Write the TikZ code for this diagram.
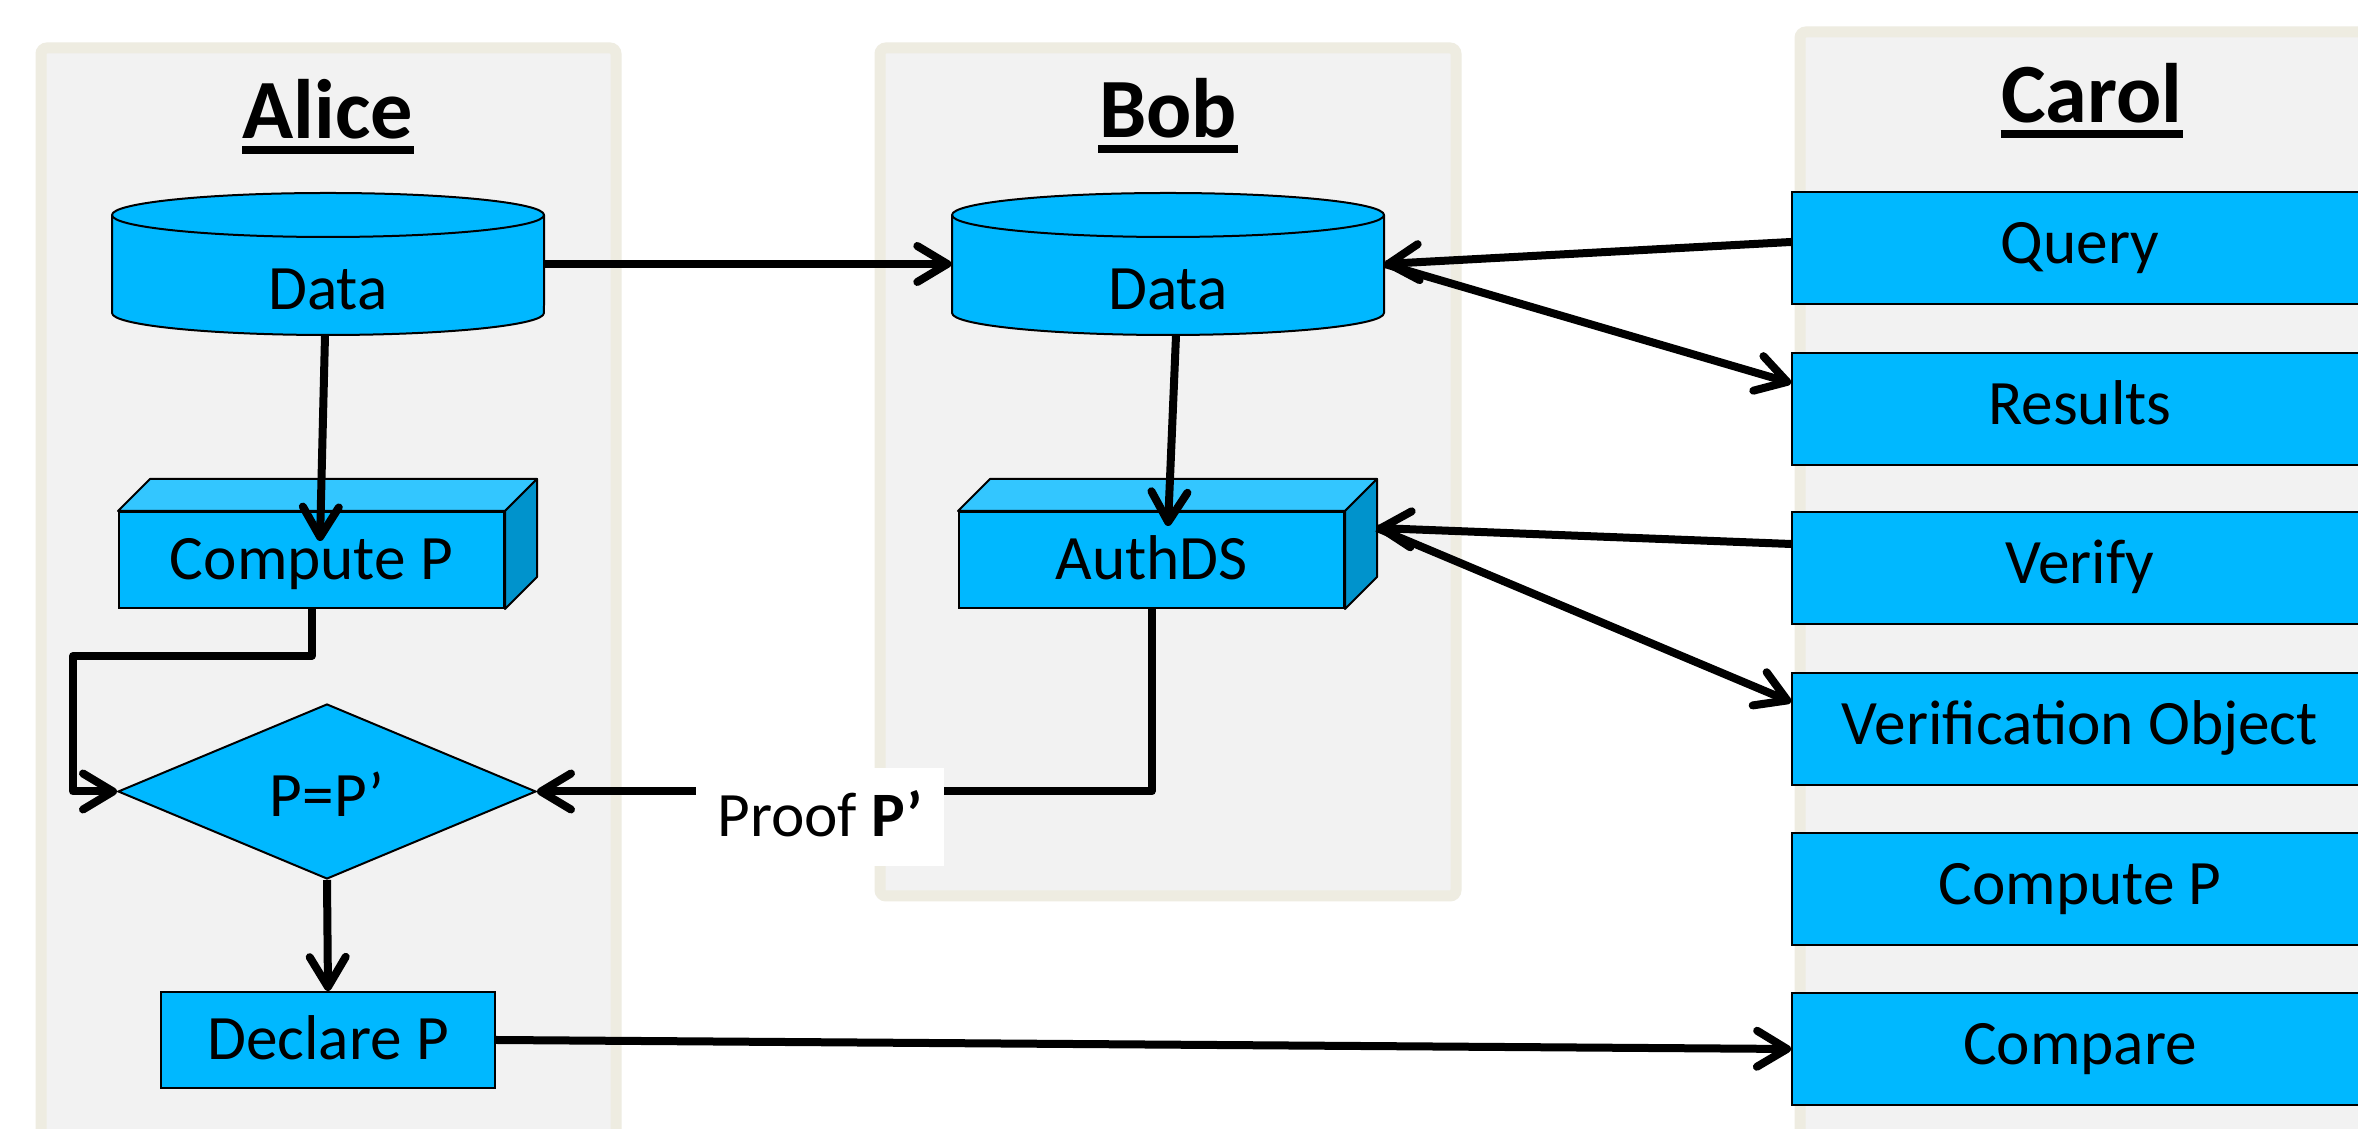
\documentclass[tikz,border=0pt]{standalone}
\usepackage{fontspec}
\setmainfont{Carlito}
\usetikzlibrary{arrows.meta,shapes.geometric}
\definecolor{boxblue}{HTML}{00B8FF}
\definecolor{boxtop}{HTML}{33C6FF}
\definecolor{boxside}{HTML}{0093CC}
\definecolor{panelbg}{HTML}{F2F2F2}
\definecolor{panelrim}{HTML}{EEECE1}
\newcommand{\boxfont}{\fontsize{18}{22}\selectfont}
\tikzset{
  panel/.style={draw=panelrim, fill=panelbg, line width=1.1mm, rounded corners=0.6mm},
  head/.style={font=\fontsize{24}{28}\selectfont\bfseries, inner sep=0pt, anchor=base},
  box/.style={draw=black, fill=boxblue, line width=0.2mm, inner sep=0pt,
              font=\boxfont, text height=11.3pt, text depth=0pt},
  slab/.style={box, minimum width=38.5mm, minimum height=9.6mm},
  task/.style={box, minimum width=57.6mm, minimum height=11.2mm, text depth=2.7pt},
  store/.style={inner sep=0pt, minimum width=43.2mm, minimum height=14.2mm,
                font=\boxfont, text height=26pt, text depth=0pt},
  check/.style={box, diamond, minimum width=41.8mm, minimum height=17.5mm, text height=14.1pt},
  face/.style={draw=black, line width=0.2mm, line join=round},
  flow/.style={-{Straight Barb[length=3mm,width=3.6mm,round]}, line width=0.8mm, line join=round},
}

\begin{document}
\begin{tikzpicture}[x=0.1mm, y=-0.1mm]
    \clip (0,0) rectangle (2358,1129);
    \fill[white] (0,0) rectangle (2358,1129);
    \draw[panel] (41,48) rectangle (616,1200);
    \draw[panel] (880,48) rectangle (1456,896);
    \draw[panel] (1800,32) rectangle (2420,1200);

    \node[head] (alice) at (328,139) {Alice};
    \node[head] (bob) at (1168,138) {Bob};
    \node[head] (carol) at (2092,123) {Carol};
    \foreach \n in {alice,bob,carol}
      \draw[line width=0.8mm] ([yshift=-1.1mm]\n.base west) -- ([yshift=-1.1mm]\n.base east);

    \foreach \n/\x in {adata/328,bdata/1168}{
      \filldraw[face, fill=boxblue] (\x-216,215) -- (\x-216,313)
        arc[start angle=180, end angle=360, x radius=21.6mm, y radius=2.2mm] -- (\x+216,215)
        arc[start angle=0, end angle=180, x radius=21.6mm, y radius=2.2mm] -- cycle;
      \draw[face] (\x-216,215) arc[start angle=180, end angle=360, x radius=21.6mm, y radius=2.2mm];
      \node[store] (\n) at (\x,264) {Data};
    }

    \node[slab] (acomp) at (311.5,560) {Compute P};
    \node[slab] (auth) at (1151.5,560) {AuthDS};
    \foreach \n in {acomp,auth}{
      \filldraw[face, fill=boxtop] (\n.north west) -- ++(3.2mm,3.2mm) -- ([shift={(3.2mm,3.2mm)}]\n.north east) -- (\n.north east) -- cycle;
      \filldraw[face, fill=boxside] (\n.north east) -- ++(3.2mm,3.2mm) -- ([shift={(3.2mm,3.2mm)}]\n.south east) -- (\n.south east) -- cycle;
    }

    \node[check] (eq) at (327,791.5) {P=P’};
    \node[box, minimum width=33.4mm, minimum height=9.6mm] (declare) at (328,1040) {Declare P};

    \node[task] (query) at (2080,248) {Query};
    \node[task] (results) at (2080,409) {Results};
    \node[task] (verify) at (2080,568) {Verify};
    \node[task] (vobj) at (2080,729) {Verification Object};
    \node[task] (ccomp) at (2080,889) {Compute P};
    \node[task] (compare) at (2080,1049) {Compare};

    \coordinate (bend) at (73,656);
    \coordinate (authside) at ([shift={(3.2mm,3.2mm)}]auth.east);
    \draw[flow] ([xshift=-0.3mm]adata.south) -- ([shift={(0.85mm,-3mm)}]acomp.north);
    \draw[flow] (adata.east) -- (bdata.west);
    \draw[flow] ([xshift=0.8mm]bdata.south) -- ([shift={(1.65mm,-1.5mm)}]auth.north);
    \draw[flow] ([yshift=0.6mm]query.west) -- (bdata.east);
    \draw[flow] (bdata.east) -- ([yshift=2.6mm]results.west);
    \draw[flow] ([yshift=2.4mm]verify.west) -- (authside);
    \draw[flow] (authside) -- ([yshift=2.7mm]vobj.west);
    \draw[flow] (acomp.south) |- (bend) |- (eq.west);
    \draw[flow] (auth.south) |- (eq.east);
    \node[fill=white, inner sep=0pt, minimum width=24.8mm, minimum height=9.8mm,
          font=\boxfont, text height=11.3pt, text depth=0pt] (proof) at (820,817) {Proof \textbf{P’}};
    \draw[flow] (eq.south) -- (declare.north);
    \draw[flow] (declare.east) -- (compare.west);
  \end{tikzpicture}
\end{document}
